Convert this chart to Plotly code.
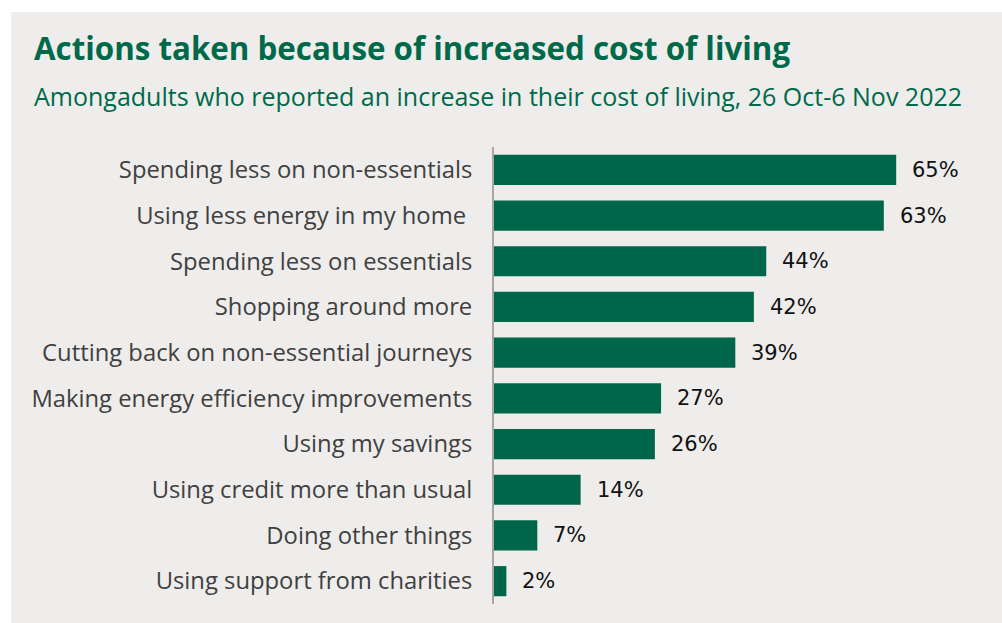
import plotly.graph_objects as go

categories = [
    "Spending less on non-essentials",
    "Using less energy in my home ",
    "Spending less on essentials",
    "Shopping around more",
    "Cutting back on non-essential journeys",
    "Making energy efficiency improvements",
    "Using my savings",
    "Using credit more than usual",
    "Doing other things",
    "Using support from charities",
]
values = [65, 63, 44, 42, 39, 27, 26, 14, 7, 2]
value_labels = ["65%", "63%", "44%", "42%", "39%", "27%", "26%", "14%", "7%", "2%"]

W, H = 1002, 623
L, R, T, B = 494, 13, 147, 19
BG = "#eeedeb"
GREEN = "#00664a"
TITLE_GREEN = "#00694a"


def px_x(px):
    return (px - L) / (W - L - R)


def px_y(py):
    return (H - B - py) / (H - T - B)


fig = go.Figure()
fig.add_trace(go.Bar(
    x=values,
    y=categories,
    orientation="h",
    marker=dict(color=GREEN, line=dict(width=0)),
    hoverinfo="skip",
))

annotations = []
for c, v, t in zip(categories, values, value_labels):
    annotations.append(dict(
        x=v, y=c, xref="x", yref="y", text=t, showarrow=False,
        xanchor="left", yanchor="middle", xshift=14,
        font=dict(family="DejaVu Sans", size=21, color="#111111"),
    ))

annotations.append(dict(
    x=px_x(32), y=px_y(48), xref="paper", yref="paper",
    text="<b>Actions taken because of increased cost of living</b>",
    showarrow=False, xanchor="left", yanchor="middle",
    font=dict(family="Open Sans", size=31.3, color=TITLE_GREEN),
))
annotations.append(dict(
    x=px_x(32), y=px_y(96), xref="paper", yref="paper",
    text="Amongadults who reported an increase in their cost of living, 26 Oct-6 Nov 2022",
    showarrow=False, xanchor="left", yanchor="middle",
    font=dict(family="Open Sans", size=25, color=TITLE_GREEN),
))

fig.update_layout(
    width=W, height=H,
    margin=dict(l=L, r=R, t=T, b=B, pad=0),
    paper_bgcolor="white",
    plot_bgcolor=BG,
    bargap=0.34,
    showlegend=False,
    annotations=annotations,
    shapes=[dict(
        type="rect", xref="paper", yref="paper",
        x0=px_x(11), x1=px_x(1002 + 5), y0=px_y(12), y1=px_y(623 + 5),
        fillcolor=BG, line=dict(width=0), layer="below",
    )],
)
fig.update_xaxes(
    range=[0, 80], showgrid=False, zeroline=False, showticklabels=False,
    showline=False, fixedrange=True,
)
fig.update_yaxes(
    autorange="reversed", showgrid=False, zeroline=False,
    showline=True, linecolor="#a6a6a6", linewidth=2,
    ticks="", ticklabelstandoff=15,
    tickfont=dict(family="Open Sans", size=23.8, color="#404040"),
    fixedrange=True,
)

fig.write_html(
    "out.html",
    config=dict(displayModeBar=False),
    post_script="document.body.style.margin='0';document.body.style.overflow='hidden';",
)
